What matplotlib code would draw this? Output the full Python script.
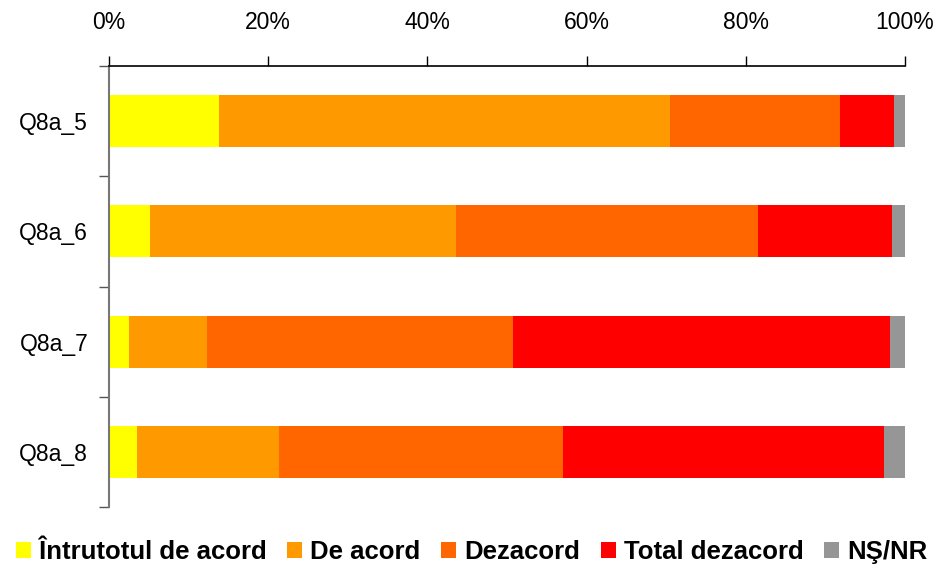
import matplotlib
matplotlib.use('Agg')
import matplotlib.pyplot as plt
import numpy as np
from matplotlib.ticker import FuncFormatter

## data (percent of respondents)
categories=['Q8a_5','Q8a_6','Q8a_7','Q8a_8']
series_names=['Întrutotul de acord','De acord','Dezacord','Total dezacord','NŞ/NR']
intrutotul=[13.8,5.2,2.5,3.5]
de_acord=[56.7,38.4,9.8,17.9]
dezacord=[21.3,37.9,38.4,35.6]
total_dezacord=[6.8,16.9,47.4,40.4]
ns_nr=[1.4,1.6,1.9,2.6]
colors=['#FFFF00','#FF9900','#FF6600','#FF0000','#969696']

plt.rcParams['font.family']=['Liberation Sans','DejaVu Sans']

fig=plt.figure(figsize=(9.43,5.64),dpi=100)
ax=fig.add_axes([109/943,1-507/564,796/943,441/564])

ypos=np.arange(len(categories))
left=np.zeros(len(categories))
for name,vals,col in zip(series_names,[intrutotul,de_acord,dezacord,total_dezacord,ns_nr],colors):
    ax.barh(ypos,vals,left=left,height=0.47,color=col,label=name)
    left=left+np.array(vals)

ax.set_xlim(0,100)
ax.set_ylim(len(categories)-0.5,-0.5)
ax.xaxis.tick_top()
ax.set_xticks([0,20,40,60,80,100])
ax.xaxis.set_major_formatter(FuncFormatter(lambda v,p:'%d%%'%v))
ax.set_yticks(ypos)
ax.set_yticklabels(categories)
# category separator ticks on the left spine
ax.set_yticks(np.arange(-0.5,len(categories),1),minor=True)
ax.tick_params(axis='y',which='major',length=0,pad=15,labelsize=16.5)
ax.tick_params(axis='y',which='minor',length=7,width=1,color='#555555')
ax.tick_params(axis='x',length=7,width=1,pad=16,labelsize=16.5)

for s in ['right','bottom']:
    ax.spines[s].set_visible(False)
ax.spines['top'].set_linewidth(1.2)
ax.spines['left'].set_color('#777777')
ax.spines['left'].set_linewidth(1.5)

fig.legend(loc='lower center',bbox_to_anchor=(0.5,-0.028),ncol=5,frameon=False,
           prop={'weight':'bold','size':18.5},handlelength=0.6,handleheight=0.6,
           handletextpad=0.3,columnspacing=0.8,borderaxespad=0.2)

fig.savefig('out.png',dpi=100)
